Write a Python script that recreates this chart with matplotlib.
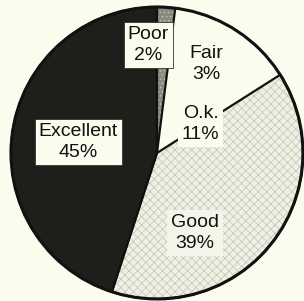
import matplotlib
matplotlib.use("Agg")
from matplotlib import pyplot as plt
from matplotlib.patches import Circle

# slices, clockwise from 12 o'clock
labels = ["Poor", "Fair", "O.k.", "Good", "Excellent"]
shares = [2, 3, 11, 39, 45]

face_colors = ["#8a8a80", "#fbfbee", "#fbfbee", "#efefe3", "#1e1e1a"]
hatches = ["....", None, None, "xxxx", None]
outlined = [True, False, False, True, True]

# where each label sits (pie radius = 1)
label_pos = {
    "Poor": (-0.06, 0.74),
    "Fair": (0.34, 0.61),
    "O.k.": (0.30, 0.20),
    "Good": (0.26, -0.55),
    "Excellent": (-0.54, 0.075),
}
# (fill, edge) of the box behind each label
label_box = {
    "Poor": ("#fbfbee", "#333333"),
    "Fair": None,
    "O.k.": ("#fbfbee", "none"),
    "Good": ("#f4f4e8", "none"),
    "Excellent": ("#fbfbee", "#333333"),
}

bg = "#fbfbee"
plt.rcParams["font.family"] = ["Liberation Sans", "DejaVu Sans"]
plt.rcParams["hatch.color"] = "#c4c4b4"
plt.rcParams["hatch.linewidth"] = 0.5

fig = plt.figure(figsize=(3.04, 3.01), dpi=100, facecolor=bg)
ax = fig.add_axes([0, 0, 1, 1])
ax.set_facecolor(bg)

wedges, _ = ax.pie(
    shares,
    colors=face_colors,
    startangle=90,
    counterclock=False,
    wedgeprops=dict(linewidth=0),
)
for w, h in zip(wedges, hatches):
    if h:
        w.set_hatch(h)

# outlines on top
lines, _ = ax.pie(
    shares,
    startangle=90,
    counterclock=False,
    wedgeprops=dict(fill=False, linewidth=1.6),
)
for w, show in zip(lines, outlined):
    w.set_edgecolor("#111111" if show else "none")
ax.add_patch(Circle((0, 0), 1, fill=False, edgecolor="#111111", linewidth=2.2))

for name, share in zip(labels, shares):
    x, y = label_pos[name]
    box = None
    if label_box[name]:
        fill, edge = label_box[name]
        box = dict(facecolor=fill, edgecolor=edge,
                   linewidth=0.6, boxstyle="square,pad=0.2")
    ax.text(x, y, f"{name}\n{share}%", ha="center", va="center",
            fontsize=14, linespacing=1.3, color="#111111", bbox=box, zorder=5)

ax.set_aspect("equal")
ax.set_xlim(-1.075, 1.007)
ax.set_ylim(-1.014, 1.048)
ax.axis("off")

fig.savefig("out.png", dpi=100, facecolor=bg)
